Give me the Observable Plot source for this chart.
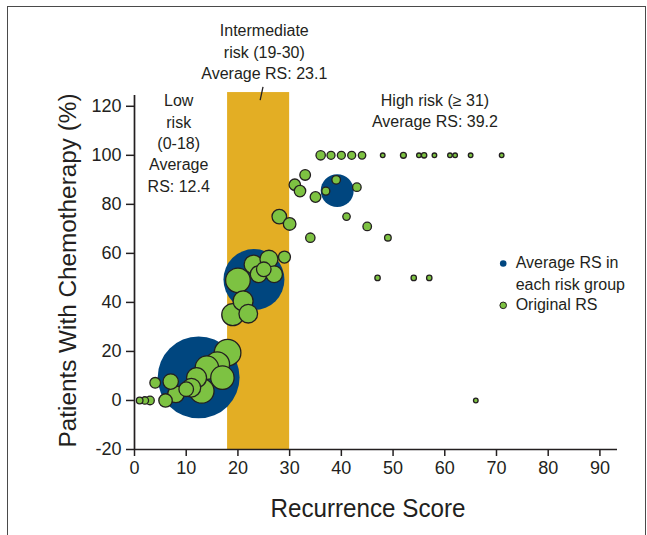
<!DOCTYPE html>
<html>
<head>
<meta charset="utf-8">
<script src="https://cdn.jsdelivr.net/npm/d3@7"></script>
<script src="https://cdn.jsdelivr.net/npm/@observablehq/plot@0.6"></script>
<style>
  html, body { margin: 0; padding: 0; background: #fff; }
  #wrap { position: relative; width: 647px; height: 535px; overflow: hidden; }
  #border { position: absolute; left: 7px; top: 6px; width: 637px; height: 540px;
            border: 1.3px solid #4a4a4a; pointer-events: none; }
</style>
</head>
<body>
<div id="wrap"><div id="chart"></div><div id="border"></div></div>
<script>
// ---- Data ----
// Original RS (green bubbles): recurrence score, % with chemotherapy, relative size
const lowRS   = [1, 2, 3, 4, 6, 7, 8, 10, 11, 12, 13, 14, 16, 17, 18];
const lowPct  = [0, 0, 0, 7.2, 0, 7.7, 2.5, 4.6, 5.2, 9.3, 3.9, 13.4, 14.8, 9.3, 19.5];
const lowN    = [1.5, 1.9, 2.5, 3.9, 6.2, 8.1, 9.5, 7.3, 11.9, 13.7, 20.8, 18.8, 20.8, 18.8, 24.3];

const midRS   = [19, 20, 21, 22, 23, 24, 25, 26, 27, 28, 29, 30];
const midPct  = [35, 49, 40.6, 35.4, 55.5, 51.5, 53.5, 57.6, 51.5, 75, 58.5, 72];
const midN    = [16.6, 20.8, 13.7, 11.9, 11.9, 9.5, 7.3, 11.1, 9.5, 7.3, 4.9, 5.4];

const highRS  = [31, 32, 33, 34, 35, 36, 37, 38, 39, 40, 41, 42, 43, 44, 45, 47, 48, 49, 52, 54, 55, 56, 57, 58, 61, 62, 65, 66, 71];
const highPct = [88, 85.4, 92, 66.4, 83, 100, 85.4, 100, 90, 100, 75, 100, 87, 100, 71, 50, 100, 66.4, 100, 50, 100, 100, 50, 100, 100, 100, 100, 0, 100];
const highN   = [4.5, 4.5, 3.9, 3, 3.9, 3, 2.2, 2.2, 2.5, 2.2, 1.9, 2.2, 2.5, 1.9, 2.5, 1, 0.73, 1.5, 1.2, 1, 0.73, 1, 1, 0.73, 0.73, 0.73, 0.73, 0.73, 0.73];

// Average RS in each risk group (blue bubbles)
const groupNames = ["Low", "Intermediate", "High"];
const avgRS      = [12.4, 23.1, 39.2];
const avgPct     = [9.4, 49.3, 85.6];
const avgN       = [230, 127.6, 37.3];

// Intermediate-risk band
const bandFrom = 18, bandTo = 30;

// Axis ticks
const xTicks = [0, 10, 20, 30, 40, 50, 60, 70, 80, 90];
const yTicks = [-20, 0, 20, 40, 60, 80, 100, 120];

// Text
const lowLabel  = "Low\nrisk\n(0-18)\nAverage\nRS: 12.4";
const midLabel  = "Intermediate\nrisk (19-30)\nAverage RS: 23.1";
const highLabel = "High risk (\u2265 31)\nAverage RS: 39.2";
const legendAvg = "Average RS in\neach risk group";
const legendOrig = "Original RS";
const xTitle = "Recurrence Score";
const yTitle = "Patients With Chemotherapy (%)";

// ---- Build tables ----
const original = [
  ...lowRS.map((rs, i) => ({rs, pct: lowPct[i], n: lowN[i]})),
  ...midRS.map((rs, i) => ({rs, pct: midPct[i], n: midN[i]})),
  ...highRS.map((rs, i) => ({rs, pct: highPct[i], n: highN[i]}))
];
const averages = groupNames.map((g, i) => ({g, rs: avgRS[i], pct: avgPct[i], n: avgN[i]}));

const BLUE = "#00467f", GREEN = "#7dc242", GOLD = "#e3ae24", INK = "#231f20";
const X_MAX = 93.4, Y_MIN = -20, Y_MAX = 124.4;
const sans = "'Liberation Sans', Arial, Helvetica, sans-serif";
const LH = 1.34;

const chart = Plot.plot({
  width: 647,
  height: 535,
  marginLeft: 134,
  marginRight: 30,
  marginTop: 95,
  marginBottom: 86,
  x: {domain: [0, X_MAX]},
  y: {domain: [Y_MIN, Y_MAX]},
  r: {type: "sqrt", domain: [0, 100], range: [0, 27]},
  style: {fontFamily: sans, fontSize: "18px", color: INK, background: "transparent", overflow: "visible"},
  marks: [
    Plot.rect([{x1: bandFrom, x2: bandTo}], {x1: "x1", x2: "x2", y1: Y_MIN, y2: 125.6, fill: GOLD}),
    Plot.dot(averages, {x: "rs", y: "pct", r: "n", fill: BLUE, stroke: "none"}),
    Plot.dot(original, {x: "rs", y: "pct", r: "n", fill: GREEN, stroke: INK, strokeWidth: 1.3}),
    Plot.ruleX([0], {y1: Y_MIN, y2: Y_MAX, stroke: INK, strokeWidth: 1.7}),
    Plot.ruleY([Y_MIN], {x1: 0, x2: X_MAX, stroke: INK, strokeWidth: 1.7}),
    Plot.axisX({ticks: xTicks, tickSize: 7, tickPadding: 5, tickFormat: d => String(d), label: null, stroke: INK, strokeWidth: 1.5, fill: INK, fontSize: 18, fontFamily: sans}),
    Plot.axisY({ticks: yTicks, tickSize: 8, tickPadding: 5, tickFormat: d => String(d), label: null, stroke: INK, strokeWidth: 1.5, fill: INK, fontSize: 18, fontFamily: sans}),
    // Titles
    Plot.text([xTitle], {frameAnchor: "bottom", textAnchor: "middle", dx: -8, dy: 67, fontFamily: sans, fontSize: 25, fill: INK}),
    Plot.text([yTitle], {frameAnchor: "left", textAnchor: "middle", rotate: -90, dx: -66, dy: -2, fontFamily: sans, fontSize: 23, fill: INK}),
    // Annotations
    Plot.text([lowLabel], {x: 8.55, y: 105.4, lineHeight: LH, fontSize: 16, fontFamily: sans, fill: INK}),
    Plot.text([midLabel], {x: 25.1, y: 142.7, lineHeight: LH, fontSize: 16, fontFamily: sans, fill: INK}),
    Plot.text([highLabel], {x: 58.1, y: 118.7, lineHeight: LH, fontSize: 16, fontFamily: sans, fill: INK}),
    Plot.link([{a: 24.85, b: 127.9, c: 24.3, d: 122.5}], {x1: "a", y1: "b", x2: "c", y2: "d", stroke: INK, strokeWidth: 1.3}),
    // Legend
    Plot.dot([{x: 71.3, y: 55.9}], {x: "x", y: "y", r: 3.3, fill: BLUE, stroke: "none"}),
    Plot.dot([{x: 71.3, y: 38.8}], {x: "x", y: "y", r: 3.3, fill: GREEN, stroke: INK, strokeWidth: 1}),
    Plot.text([legendAvg], {x: 73.7, y: 52.4, textAnchor: "start", lineHeight: LH, fontSize: 16, fontFamily: sans, fill: INK}),
    Plot.text([legendOrig], {x: 73.7, y: 38.9, textAnchor: "start", fontSize: 16, fontFamily: sans, fill: INK})
  ]
});
// Condense the axis titles to the reference's narrow type
d3.select(chart).selectAll("text").each(function() {
  const t = this.textContent;
  if (t === xTitle) { this.setAttribute("textLength", 195); this.setAttribute("lengthAdjust", "spacingAndGlyphs"); }
  if (t === yTitle) { this.setAttribute("textLength", 354); this.setAttribute("lengthAdjust", "spacingAndGlyphs"); }
});
document.getElementById("chart").appendChild(chart);
</script>
</body>
</html>
